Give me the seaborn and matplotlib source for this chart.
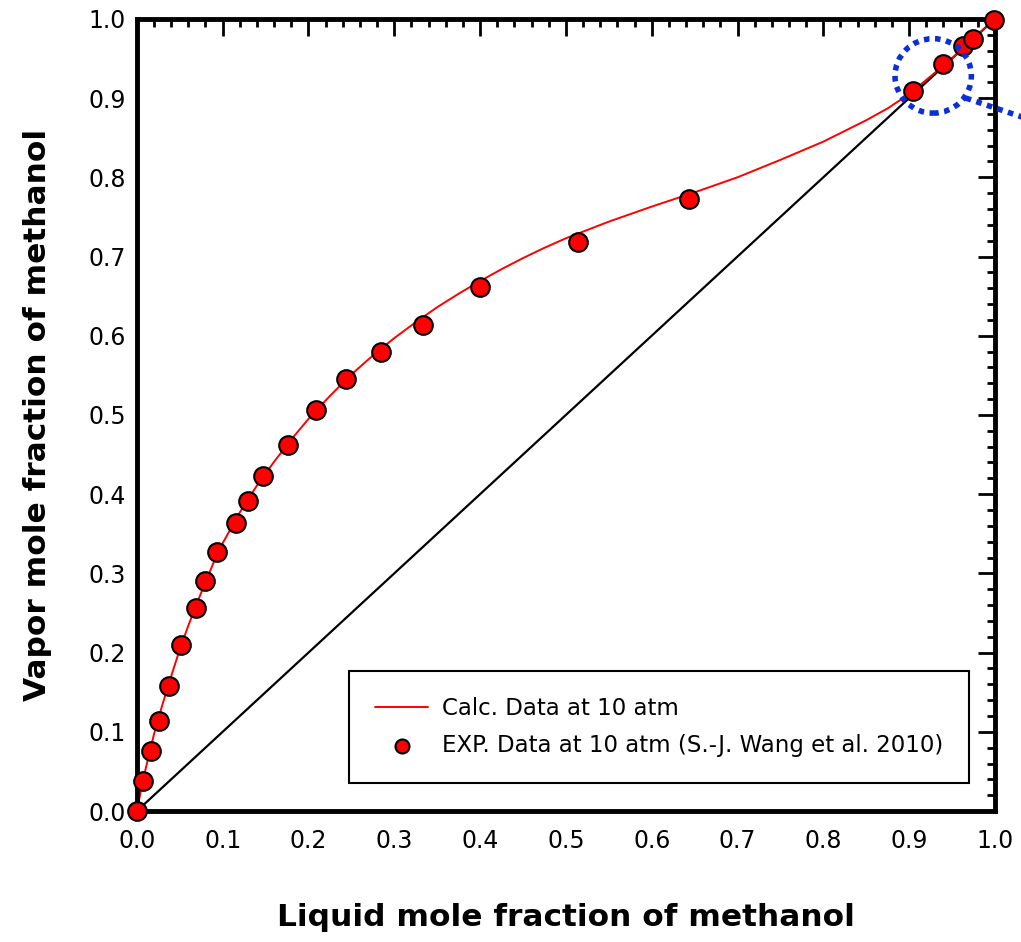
import numpy as np
import pandas as pd
import seaborn as sns
import matplotlib.pyplot as plt
from matplotlib.patches import Ellipse
from matplotlib.ticker import MultipleLocator

sns.set_style("white")
plt.rcParams['font.family'] = ['DejaVu Sans']
plt.rcParams.update({'text.color': 'black', 'axes.labelcolor': 'black',
                     'xtick.color': 'black', 'ytick.color': 'black'})

x_exp = [0.0, 0.007, 0.016, 0.026, 0.038, 0.051, 0.069, 0.080, 0.093, 0.115,
         0.129, 0.147, 0.176, 0.209, 0.244, 0.284, 0.333, 0.400, 0.514, 0.643,
         0.904, 0.939, 0.963, 0.974, 0.999]
y_exp = [0.0, 0.038, 0.076, 0.114, 0.158, 0.210, 0.256, 0.291, 0.327, 0.363,
         0.392, 0.423, 0.462, 0.506, 0.546, 0.580, 0.614, 0.662, 0.718, 0.772,
         0.909, 0.943, 0.966, 0.975, 0.999]

# Calculated curve
x_calc = [0.0, 0.005, 0.01, 0.02, 0.03, 0.04, 0.05, 0.06, 0.07, 0.08, 0.09,
          0.10, 0.12, 0.14, 0.16, 0.18, 0.20, 0.225, 0.25, 0.275, 0.30, 0.325,
          0.35, 0.375, 0.40, 0.425, 0.45, 0.475, 0.50, 0.55, 0.60, 0.65,
          0.70, 0.75, 0.80, 0.85, 0.875, 0.90, 0.95, 1.0]
y_calc = [0.0, 0.027, 0.052, 0.097, 0.135, 0.170, 0.204, 0.234, 0.262, 0.289,
          0.315, 0.338, 0.377, 0.411, 0.441, 0.469, 0.495, 0.524, 0.551,
          0.575, 0.597, 0.617, 0.636, 0.653, 0.669, 0.684, 0.698, 0.711,
          0.723, 0.744, 0.763, 0.781, 0.800, 0.822, 0.845, 0.872, 0.887,
          0.905, 0.950, 1.0]

diag = [0.0, 1.0]

fig = plt.figure(figsize=(10.21, 9.42), dpi=100)
ax = fig.add_axes([0.134, 0.139, 0.8405, 0.841])

ax.plot(diag, diag, color='black', lw=1.6, zorder=1)
sns.lineplot(x=x_calc, y=y_calc, color='red', lw=1.4, ax=ax, sort=False,
             label='Calc. Data at 10 atm', zorder=2)
sns.scatterplot(x=x_exp, y=y_exp, color='red', edgecolor='black', linewidth=1.5,
                s=180, ax=ax, zorder=3, clip_on=False,
                label='EXP. Data at 10 atm (S.-J. Wang et al. 2010)')

# zoom indicator
ell = Ellipse((0.928, 0.928), 0.089, 0.094, fill=False, edgecolor='#0a2fd8',
              lw=4, ls=(0, (1, 1)), clip_on=False, zorder=4)
ax.add_patch(ell)
ax.plot([0.966, 1.04], [0.9, 0.873], color='#0a2fd8', lw=4, ls=(0, (1, 1)),
        clip_on=False, zorder=4)

ax.set_xlim(0, 1)
ax.set_ylim(0, 1)
ax.xaxis.set_major_locator(MultipleLocator(0.1))
ax.yaxis.set_major_locator(MultipleLocator(0.1))
ax.xaxis.set_minor_locator(MultipleLocator(0.02))
ax.yaxis.set_minor_locator(MultipleLocator(0.02))
ax.tick_params(which='both', direction='in', top=True, right=True,
               labelsize=17, width=2, pad=8)
ax.tick_params(axis='x', which='major', pad=13)
ax.tick_params(which='major', length=12)
ax.tick_params(which='minor', length=6)
ax.set_xticklabels([f"{v:.1f}" for v in ax.get_xticks()])
ax.set_yticklabels([f"{v:.1f}" for v in ax.get_yticks()])
for sp in ax.spines.values():
    sp.set_linewidth(3.5)
    sp.set_color('black')

ax.set_xlabel('Liquid mole fraction of methanol', fontsize=22.5,
              fontweight='bold', labelpad=36)
ax.set_ylabel('Vapor mole fraction of methanol', fontsize=22.5,
              fontweight='bold', labelpad=26)

leg = ax.legend(loc='lower right', bbox_to_anchor=(0.97, 0.035),
                fontsize=16.5, frameon=True, fancybox=False, edgecolor='black',
                borderpad=1.15, handlelength=2.3, handletextpad=0.6,
                labelspacing=0.6, markerscale=0.75, borderaxespad=0)
leg.get_frame().set_linewidth(1.5)
leg.get_frame().set_alpha(1)

plt.savefig('out.png', dpi=100)
